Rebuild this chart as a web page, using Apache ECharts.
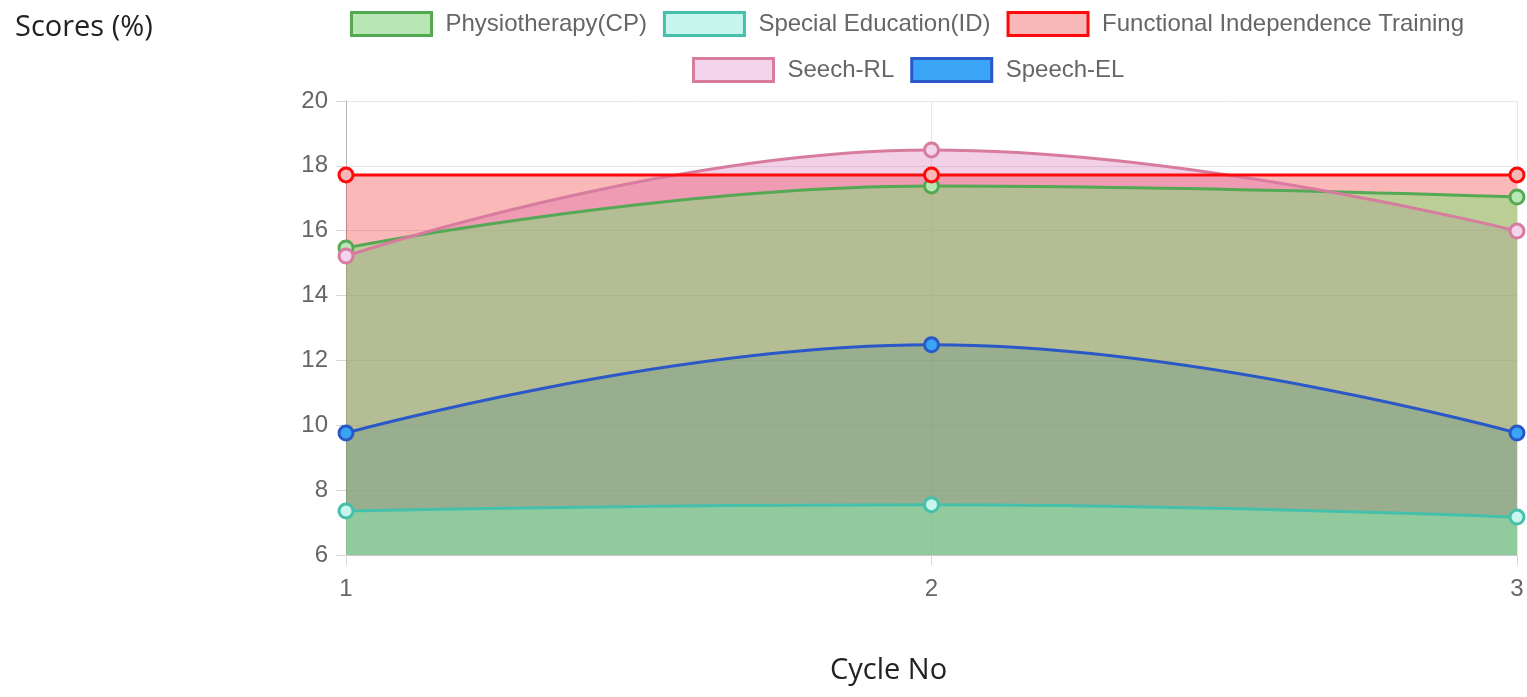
<!DOCTYPE html>
<html>
<head>
<meta charset="utf-8">
<script src="https://cdn.jsdelivr.net/npm/echarts@6/dist/echarts.min.js"></script>
<style>
  html, body { margin: 0; padding: 0; background: #fff; }
  #chart { width: 1527px; height: 697px; }
</style>
</head>
<body>
<div id="chart"></div>
<script>
// data
const cycles = ['1', '2', '3'];
const physio = [15.47, 17.38, 17.04];
const specialEd = [7.36, 7.55, 7.17];
const fit = [17.72, 17.72, 17.72];
const speechRL = [15.22, 18.49, 15.99];
const speechEL = [9.76, 12.48, 9.76];

// name, values, line colour, legend fill, area fill
const sets = [
  { name: 'Functional Independence Training', data: fit, line: '#ff0a0a', box: '#f8b8b8', area: 'rgba(240,0,0,0.28)' },
  { name: 'Seech-RL', data: speechRL, line: '#d77c9f', box: '#f4d3ec', area: 'rgba(203,67,163,0.25)' },
  { name: 'Physiotherapy(CP)', data: physio, line: '#55a955', box: '#b9e6b5', area: 'rgba(93,239,100,0.4)' },
  { name: 'Speech-EL', data: speechEL, line: '#2b58c8', box: '#3aa5f5', area: 'rgba(71,132,131,0.25)' },
  { name: 'Special Education(ID)', data: specialEd, line: '#45c0aa', box: '#c9f5ef', area: 'rgba(130,244,178,0.4)' }
];
const lineOrder = ['Physiotherapy(CP)', 'Special Education(ID)', 'Speech-EL', 'Seech-RL', 'Functional Independence Training'];

const byName = {};
sets.forEach(s => { byName[s.name] = s; });

const SMOOTH = 0.45;

const areaSeries = sets.map(s => ({
  name: s.name,
  type: 'line',
  data: s.data,
  smooth: SMOOTH,
  symbol: 'none',
  lineStyle: { width: 0 },
  itemStyle: { color: s.box },
  areaStyle: { color: s.area, origin: 'start', opacity: 1 },
  z: 2,
  silent: true
}));

const lineSeries = lineOrder.map((n, i) => {
  const s = byName[n];
  return {
    name: s.name,
    type: 'line',
    data: s.data,
    smooth: SMOOTH,
    symbol: 'circle',
    symbolSize: 14,
    lineStyle: { width: 3, color: s.line },
    itemStyle: { color: s.box, borderColor: s.line, borderWidth: 3 },
    z: 3 + i
  };
});

const legendItem = n => ({
  name: n,
  icon: 'rect',
  itemStyle: { color: byName[n].box, borderColor: byName[n].line, borderWidth: 3 }
});

const legendBase = {
  itemWidth: 80,
  itemHeight: 23,
  itemGap: 16,
  textStyle: { fontFamily: 'Liberation Sans', fontSize: 24, color: '#666', padding: [0, 0, 0, 9] }
};

const chart = echarts.init(document.getElementById('chart'), null, { renderer: 'canvas' });

chart.setOption({
  animation: false,
  backgroundColor: '#fff',
  textStyle: { fontFamily: 'Liberation Sans' },
  legend: [
    Object.assign({}, legendBase, {
      left: 345, top: 6,
      data: ['Physiotherapy(CP)', 'Special Education(ID)', 'Functional Independence Training'].map(legendItem)
    }),
    Object.assign({}, legendBase, {
      left: 687, top: 52,
      data: ['Seech-RL', 'Speech-EL'].map(legendItem)
    })
  ],
  grid: { left: 346, right: 10, top: 101, bottom: 142 },
  xAxis: {
    type: 'category',
    data: cycles,
    boundaryGap: false,
    axisLine: { show: true, lineStyle: { color: '#c8c8c8', width: 1 } },
    axisTick: { show: true, length: 10, lineStyle: { color: '#d8d8d8' } },
    axisLabel: { color: '#666', fontSize: 24, margin: 22 },
    splitLine: { show: true, lineStyle: { color: '#e8e8e8' } }
  },
  yAxis: {
    type: 'value',
    min: 6,
    max: 20,
    interval: 2,
    axisLine: { show: true, lineStyle: { color: '#b8b8b8', width: 1 } },
    axisTick: { show: true, length: 10, lineStyle: { color: '#d8d8d8' } },
    axisLabel: { color: '#666', fontSize: 24, margin: 18 },
    splitLine: { show: true, lineStyle: { color: '#e8e8e8' } }
  },
  graphic: [
    {
      type: 'text', left: 15, top: 13,
      style: { text: 'Scores (%)', font: '29px "Open Sans"', fill: '#222' }
    },
    {
      type: 'text', left: 830, top: 656,
      style: { text: 'Cycle No', font: '29px "Open Sans"', fill: '#222' }
    }
  ],
  series: areaSeries.concat(lineSeries)
});
</script>
</body>
</html>
